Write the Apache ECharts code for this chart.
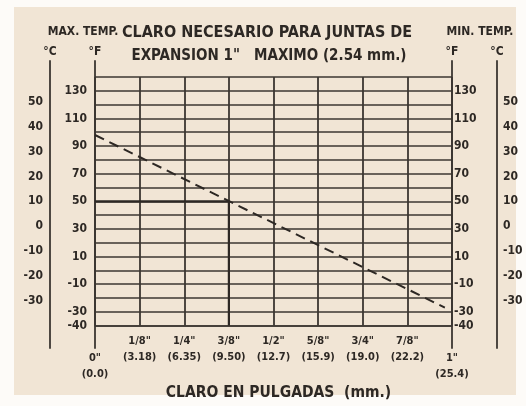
<!DOCTYPE html>
<html>
<head>
<meta charset="utf-8">
<script src="https://cdn.jsdelivr.net/npm/echarts@6/dist/echarts.min.js"></script>
<style>
html,body{margin:0;padding:0;background:#fdfbf8;}
#bg{position:absolute;left:14px;top:7px;width:502px;height:388px;background:#f1e5d5;}
#chart{position:absolute;left:0;top:0;width:526px;height:406px;}
</style>
</head>
<body>
<div id="bg"></div>
<div id="chart"></div>
<script>
// ---- data ----
const xTicks = [0, 0.125, 0.25, 0.375, 0.5, 0.625, 0.75, 0.875, 1];
const inchLabels = ['0"', '1/8"', '1/4"', '3/8"', '1/2"', '5/8"', '3/4"', '7/8"', '1"'];
const mmLabels = ['(0.0)', '(3.18)', '(6.35)', '(9.50)', '(12.7)', '(15.9)', '(19.0)', '(22.2)', '(25.4)'];
const fLabels = [130, 110, 90, 70, 50, 30, 10, -10, -30, -40];
const cLabels = [50, 40, 30, 20, 10, 0, -10, -20, -30];
const dashedX = [0, 0.98];
const dashedF = [98, -27];
const exampleX = [0, 0.375, 0.375];
const exampleF = [50, 50, -40];
const titleLine1 = 'CLARO NECESARIO PARA JUNTAS DE';
const titleLine2 = 'EXPANSION 1"   MAXIMO (2.54 mm.)';
const xName = 'CLARO EN PULGADAS  (mm.)';

const INK = '#2d2824';
const GRID = '#3b3631';
const FONT = "'Liberation Sans Narrow', 'DejaVu Sans Condensed', 'Liberation Sans', sans-serif";

const chart = echarts.init(document.getElementById('chart'), null, {renderer: 'canvas'});

function fmtF(v) { return fLabels.indexOf(v) >= 0 ? String(v) : ''; }
function fmtC(v) { return cLabels.indexOf(v) >= 0 ? String(v) : ''; }

const labelBase = {color: INK, fontFamily: FONT, fontWeight: 'bold', fontSize: 12};

const frameY = (pos, offset, name) => ({
  gridIndex: 1, type: 'value', min: 0, max: 1, position: pos, offset: offset,
  axisLine: {show: true, lineStyle: {color: GRID, width: 1.8}},
  axisTick: {show: false}, axisLabel: {show: false}, splitLine: {show: false},
  name: name, nameLocation: 'end', nameGap: 3,
  nameTextStyle: {color: INK, fontFamily: FONT, fontWeight: 'bold', fontSize: 12}
});

chart.setOption({
  animation: false,
  grid: [
    {left: 95, right: 74, top: 77, bottom: 77},
    {left: 95, right: 74, top: 61, bottom: 58}
  ],
  xAxis: [
    {
      gridIndex: 0, type: 'value', min: 0, max: 1, interval: 0.125,
      axisLine: {show: true, onZero: false, lineStyle: {color: GRID, width: 1.6}},
      axisTick: {show: false},
      splitLine: {show: true, lineStyle: {color: GRID, width: 1.8}},
      axisLabel: {
        margin: 8,
        formatter: function (v) {
          const i = xTicks.indexOf(Math.round(v * 1000) / 1000);
          if (i < 0) return '';
          const s = '{a|' + inchLabels[i] + '}\n{b|' + mmLabels[i] + '}';
          return (i === 0 || i === xTicks.length - 1) ? '{p| }\n' + s : s;
        },
        rich: {
          a: Object.assign({}, labelBase, {fontSize: 11, lineHeight: 16}),
          b: Object.assign({}, labelBase, {fontSize: 11, lineHeight: 16}),
          p: {fontSize: 11, lineHeight: 17}
        }
      },
      name: xName, nameLocation: 'middle', nameGap: 53,
      nameTextStyle: {color: INK, fontFamily: FONT, fontWeight: 'bold', fontSize: 15.5, padding: [0, 0, 0, 10]}
    },
    {gridIndex: 1, type: 'value', min: 0, max: 1, show: false}
  ],
  yAxis: [
    {
      gridIndex: 0, type: 'value', min: -40, max: 140, interval: 10, position: 'left',
      axisLine: {show: false}, axisTick: {show: false},
      splitLine: {show: true, lineStyle: {color: GRID, width: 1.6}},
      axisLabel: Object.assign({}, labelBase, {margin: 8, formatter: fmtF})
    },
    {
      gridIndex: 0, type: 'value', min: -40, max: 140, interval: 10, position: 'right',
      axisLine: {show: false}, axisTick: {show: false}, splitLine: {show: false},
      axisLabel: Object.assign({}, labelBase, {margin: 2, formatter: fmtF})
    },
    {
      gridIndex: 0, type: 'value', min: -40, max: 60, interval: 10, position: 'left', offset: 45,
      axisLine: {show: false}, axisTick: {show: false}, splitLine: {show: false},
      axisLabel: Object.assign({}, labelBase, {margin: 7, formatter: fmtC})
    },
    {
      gridIndex: 0, type: 'value', min: -40, max: 60, interval: 10, position: 'right', offset: 45,
      axisLine: {show: false}, axisTick: {show: false}, splitLine: {show: false},
      axisLabel: Object.assign({}, labelBase, {margin: 6, formatter: fmtC})
    },
    frameY('left', 0, '°F'),
    frameY('right', 0, '°F'),
    frameY('left', 45, '°C'),
    frameY('right', 45, '°C')
  ],
  graphic: [
    {type: 'text', x: 267, y: 33, style: {text: titleLine1, align: 'center', verticalAlign: 'middle',
      fill: INK, font: 'bold 16px ' + FONT}},
    {type: 'text', x: 269, y: 56, style: {text: titleLine2, align: 'center', verticalAlign: 'middle',
      fill: INK, font: 'bold 15px ' + FONT}},
    {type: 'text', x: 83, y: 32, style: {text: 'MAX. TEMP.', align: 'center', verticalAlign: 'middle',
      fill: INK, font: 'bold 12px ' + FONT}},
    {type: 'text', x: 480, y: 32, style: {text: 'MIN. TEMP.', align: 'center', verticalAlign: 'middle',
      fill: INK, font: 'bold 12px ' + FONT}}
  ],
  series: [
    {
      type: 'line', xAxisIndex: 0, yAxisIndex: 0, symbol: 'none', silent: true,
      data: dashedX.map((x, i) => [x, dashedF[i]]),
      lineStyle: {color: INK, width: 2, type: [10, 6]}
    },
    {
      type: 'line', xAxisIndex: 0, yAxisIndex: 0, symbol: 'none', silent: true,
      data: exampleX.map((x, i) => [x, exampleF[i]]),
      lineStyle: {color: INK, width: 2.2}
    }
  ]
});
</script>
</body>
</html>
